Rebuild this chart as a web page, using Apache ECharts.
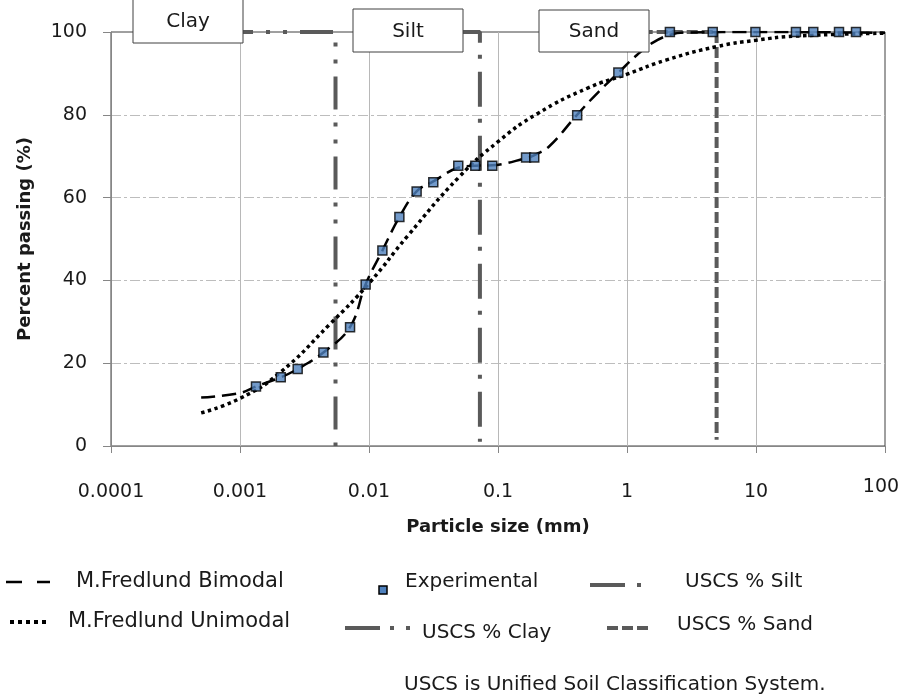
<!DOCTYPE html>
<html>
<head>
<meta charset="utf-8">
<script src="https://cdn.jsdelivr.net/npm/echarts@6/dist/echarts.min.js"></script>
<style>
  html, body { margin: 0; padding: 0; background: #fff; }
  #main { width: 902px; height: 698px; }
</style>
</head>
<body>
<div id="main"></div>
<script>
"use strict";
// grain size distribution
const xTickLabels = ['0.0001', '0.001', '0.01', '0.1', '1', '10', '100'];

const expSize = [0.00133, 0.00207, 0.0028, 0.00443, 0.00713, 0.00942, 0.0127, 0.0172, 0.0234, 0.0315,
    0.0492, 0.0667, 0.0903, 0.165, 0.191, 0.411, 0.857, 2.15, 4.62, 9.9, 20.4, 27.8, 44, 59.6];
const expPassing = [14.4, 16.6, 18.6, 22.6, 28.7, 39.0, 47.2, 55.3, 61.5, 63.7,
    67.7, 67.7, 67.7, 69.7, 69.7, 79.9, 90.2, 100, 100, 100, 100, 100, 100, 100];

const bimodalSize = [0.0005, 0.001, 0.00133, 0.00207, 0.0028, 0.00443, 0.00713, 0.0094, 0.0127, 0.0172,
    0.0234, 0.0315, 0.049, 0.0667, 0.09, 0.165, 0.19, 0.25, 0.41, 0.6, 0.86, 1.2, 1.6, 2.2, 3, 10, 100];
const bimodalPassing = [11.7, 12.8, 14.4, 16.6, 18.6, 22.6, 28.7, 39.0, 47.2, 55.3,
    61.5, 63.9, 67.2, 67.7, 67.8, 69.5, 70.2, 72.4, 80.0, 85.5, 90.2, 94.5, 97.5, 99.4, 99.9, 100, 99.8];

const unimodalSize = [0.0005, 0.001, 0.002, 0.005, 0.01, 0.02, 0.05, 0.1, 0.2, 0.5,
    1, 2, 5, 10, 20, 100];
const unimodalPassing = [8.0, 11.5, 17.5, 29.5, 39.3, 50.8, 65.0, 73.5, 80.2, 86.5,
    89.8, 93.2, 96.5, 98.0, 99.0, 99.7];

// USCS boundaries (horizontal part runs along the top, partly under the label boxes)
const claySize = [0.0007, 0.0055, 0.0055];
const clayPassing = [100, 100, 0];
const siltSize = [0.047, 0.0724, 0.0724];
const siltPassing = [100, 100, 1];
const sandSize = [1.3, 4.95, 4.95];
const sandPassing = [100, 100, 1.5];

const FONT = 'DejaVu Sans';
const TXT = '#1a1a1a';
const USCS_GRAY = '#5a5a5a';
const DASH_BI = [14, 7];
const DASH_UNI = [3.5, 3.5];
const DASH_CLAY = [33, 13, 4, 13, 4, 13];
const DASH_SILT = [35, 12, 4, 13];
const DASH_SAND = [11, 4];

function pairs(xs, ys) {
    let out = [];
    for (let i = 0; i < xs.length; i++) out.push([xs[i], ys[i]]);
    return out;
}

function legendText(x, y, text, size) {
    return { type: 'text', z: 100, style: { x: x, y: y, text: text, font: (size || 20) + 'px ' + FONT, fill: TXT, verticalAlign: 'middle' } };
}
function legendLine(x1, x2, y, color, width, dash) {
    return { type: 'line', z: 100, shape: { x1: x1, y1: y, x2: x2, y2: y },
        style: { stroke: color, lineWidth: width, lineDash: dash, lineCap: 'butt' } };
}
function labelBox(x, y, w, h, text) {
    return [
        { type: 'rect', z: 100, zlevel: 1, shape: { x: x, y: y, width: w, height: h }, style: { fill: '#fff', stroke: '#404040', lineWidth: 1 } },
        { type: 'text', z: 101, zlevel: 1, style: { x: x + w / 2, y: y + h / 2 + 1, text: text, font: '20px ' + FONT, fill: TXT, align: 'center', verticalAlign: 'middle' } }
    ];
}

let myChart = echarts.init(document.getElementById('main'));

let option = {
    animation: false,
    grid: { left: 111, right: 17, top: 32, bottom: 252, show: true, borderColor: '#404040', borderWidth: 1, outerBoundsMode: 'none' },
    xAxis: {
        type: 'log', logBase: 10, min: 0.0001, max: 100,
        name: 'Particle size (mm)', nameLocation: 'middle', nameGap: 72,
        nameTextStyle: { fontFamily: FONT, fontSize: 18, fontWeight: 'bold', color: TXT },
        axisLine: { lineStyle: { color: '#868686', width: 1 } },
        axisTick: { show: true, length: 7, lineStyle: { color: '#868686' } },
        minorTick: { show: false },
        axisLabel: {
            fontFamily: FONT, fontSize: 19, color: TXT, margin: 56, verticalAlign: 'bottom', lineHeight: 20,
            formatter: function (v) {
                let i = Math.round(Math.log10(v)) + 4;
                let s = xTickLabels[i] !== undefined ? xTickLabels[i] : String(v);
                return i === 6 ? '{up|' + s + '}' : s;
            },
            rich: { up: { fontFamily: FONT, fontSize: 19, color: TXT, lineHeight: 20, padding: [0, 8, 9, 0] } }
        },
        splitLine: { show: true, showMinLine: false, showMaxLine: false, lineStyle: { color: '#b8b8b8', width: 1 } }
    },
    yAxis: {
        type: 'value', min: 0, max: 100, interval: 20,
        name: 'Percent passing (%)', nameLocation: 'middle', nameGap: 77,
        nameTextStyle: { fontFamily: FONT, fontSize: 18, fontWeight: 'bold', color: TXT },
        axisLine: { show: true, lineStyle: { color: '#868686', width: 1 } },
        axisTick: { show: true, length: 8, lineStyle: { color: '#868686' } },
        axisLabel: { fontFamily: FONT, fontSize: 19, color: TXT, margin: 24 },
        splitLine: { show: true, showMinLine: false, showMaxLine: false, lineStyle: { color: '#bdbdbd', width: 1, type: [10, 3, 3, 3] } }
    },
    series: [
        {
            name: 'USCS % Clay', type: 'line', data: pairs(claySize, clayPassing), symbol: 'none', z: 2,
            lineStyle: { color: USCS_GRAY, width: 4, type: DASH_CLAY, cap: 'butt' }
        },
        {
            name: 'USCS % Silt', type: 'line', data: pairs(siltSize, siltPassing), symbol: 'none', z: 2,
            lineStyle: { color: USCS_GRAY, width: 4, type: DASH_SILT, cap: 'butt' }
        },
        {
            name: 'USCS % Sand', type: 'line', data: pairs(sandSize, sandPassing), symbol: 'none', z: 2,
            lineStyle: { color: USCS_GRAY, width: 4, type: DASH_SAND, cap: 'butt' }
        },
        {
            name: 'M.Fredlund Unimodal', type: 'line', data: pairs(unimodalSize, unimodalPassing), symbol: 'none',
            smooth: 0.5, z: 3,
            lineStyle: { color: '#000', width: 3.5, type: DASH_UNI, cap: 'butt' }
        },
        {
            name: 'M.Fredlund Bimodal', type: 'line', data: pairs(bimodalSize, bimodalPassing), symbol: 'none',
            smooth: 0.4, z: 4,
            lineStyle: { color: '#000', width: 2.5, type: DASH_BI, cap: 'butt' }
        },
        {
            name: 'Experimental', type: 'scatter', data: pairs(expSize, expPassing), z: 5,
            symbol: 'rect', symbolSize: 9,
            itemStyle: { color: '#4f81bd', borderColor: '#000', borderWidth: 1.5 }
        }
    ],
    graphic: [].concat(
        labelBox(133, -1, 110, 44, 'Clay'),
        labelBox(353, 9, 110, 43, 'Silt'),
        labelBox(539, 10, 110, 42, 'Sand'),
        [
            legendLine(6, 50, 582, '#000', 2.5, [16, 15, 13, 100]),
            legendText(76, 582, 'M.Fredlund Bimodal', 21),
            { type: 'rect', z: 100, shape: { x: 379, y: 586, width: 8, height: 8 }, style: { fill: '#4f81bd', stroke: '#000', lineWidth: 1.5 } },
            legendText(405, 582, 'Experimental'),
            legendLine(590, 641, 585, USCS_GRAY, 4, [35, 12, 4, 100]),
            legendText(685, 582, 'USCS % Silt'),

            legendLine(10, 46, 622, '#000', 4, [4, 4]),
            legendText(68, 622, 'M.Fredlund Unimodal', 21),
            legendLine(345, 414, 628, USCS_GRAY, 4, [35, 10, 4, 12, 4, 100]),
            legendText(422, 633, 'USCS % Clay'),
            legendLine(607, 650, 628, USCS_GRAY, 4, DASH_SAND),
            legendText(677, 625, 'USCS % Sand'),

            legendText(404, 685, 'USCS is Unified Soil Classification System.')
        ]
    )
};
myChart.setOption(option);
</script>
</body>
</html>
